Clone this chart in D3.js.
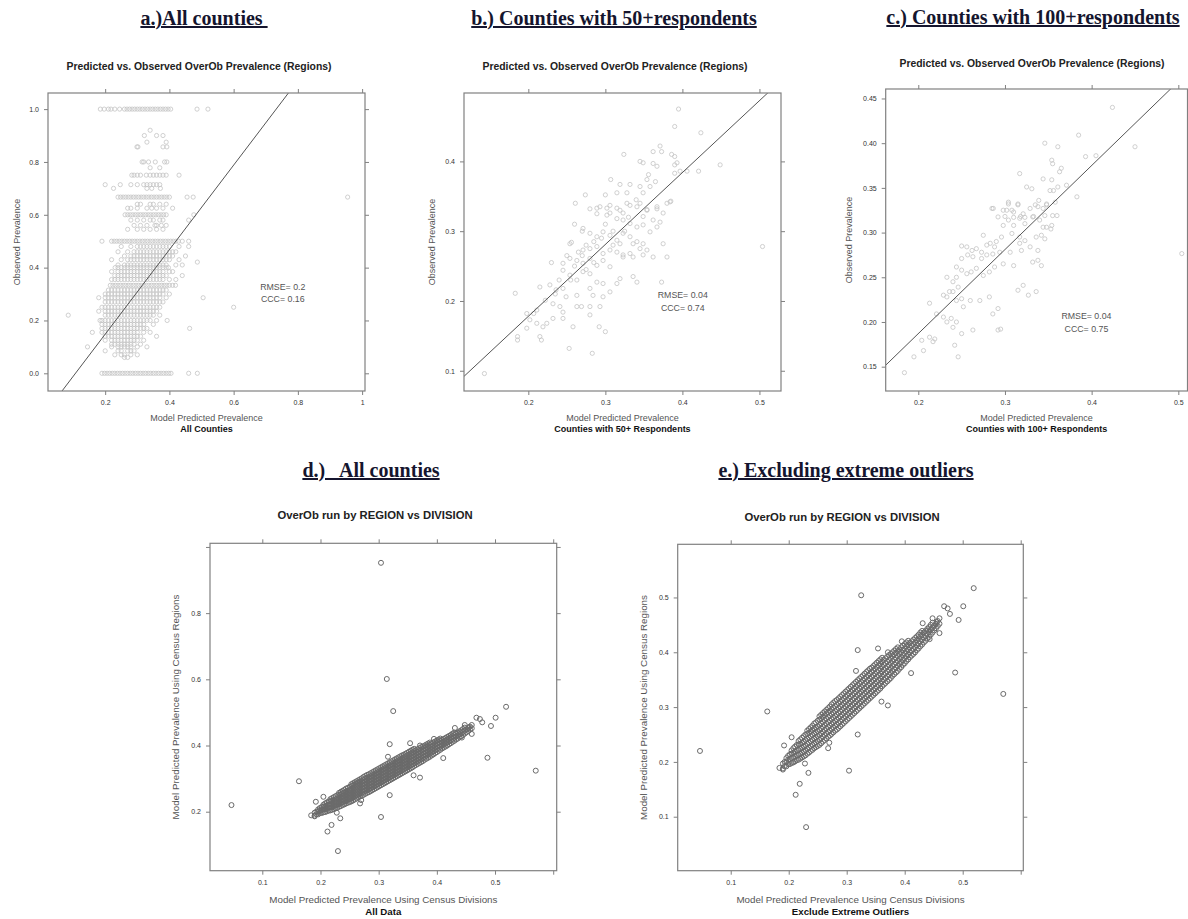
<!DOCTYPE html>
<html>
<head>
<meta charset="utf-8">
<title>OverOb prevalence - predicted vs observed</title>
<script src="https://cdn.jsdelivr.net/npm/d3@7"></script>
<style>
	body{ margin:0; background:#fff; }
	svg text{ font-family:"Liberation Sans", Arial, sans-serif; }
	.hdr{ font-family:"Liberation Serif","Times New Roman",serif !important; font-weight:bold; font-size:20px; fill:#15152e; text-decoration:underline; white-space:pre; }
	.ptitle{ font-weight:bold; fill:#222; }
	.xlab, .ylab{ fill:#555; }
	.sub{ font-weight:bold; fill:#111; }
	.stat{ fill:#555; font-size:8.8px; }
</style>
</head>
<body>

<svg id="fig" width="1188" height="919"></svg>

<script>
// ---------- panel a : all counties, rows of [observed, predicted values...] ----------
var aRows = [
	[1.0, [0.185,0.197,0.21,0.218,0.23,0.245,0.26,0.268,0.276,0.284,0.292,0.3,0.308,0.316,0.324,0.332,0.34,0.348,0.356,0.364,0.372,0.38,0.388,0.396,0.404,0.486,0.52]],
	[0.92, [0.34]],
	[0.9, [0.322,0.36,0.38]],
	[0.875, [0.33,0.39]],
	[0.857, [0.299,0.302,0.38,0.392]],
	[0.8, [0.315,0.32,0.335,0.356,0.385,0.392]],
	[0.778, [0.34,0.37]],
	[0.75, [0.283,0.29,0.3,0.31,0.328,0.34,0.35,0.36,0.37,0.38,0.39,0.43]],
	[0.714, [0.2,0.247,0.28,0.3,0.32,0.33,0.34,0.35,0.36,0.37]],
	[0.7, [0.226,0.33,0.345,0.372]],
	[0.667, [0.24,0.248,0.256,0.264,0.272,0.28,0.288,0.296,0.304,0.312,0.32,0.328,0.336,0.344,0.352,0.36,0.368,0.376,0.384,0.392,0.4,0.455,0.474,0.955]],
	[0.64, [0.3,0.31,0.34,0.35,0.37,0.39]],
	[0.625, [0.27,0.28,0.3,0.33,0.345,0.36,0.38,0.41]],
	[0.6, [0.262,0.27,0.278,0.286,0.294,0.302,0.31,0.318,0.326,0.334,0.342,0.35,0.358,0.366,0.374,0.382,0.39,0.476]],
	[0.58, [0.28,0.3,0.32,0.34,0.35,0.37,0.38,0.46]],
	[0.56, [0.29,0.31,0.33,0.355,0.36,0.375,0.39]],
	[0.545, [0.27,0.3,0.32,0.34,0.36,0.38]],
	[0.5, [0.19,0.22,0.228,0.236,0.244,0.252,0.26,0.268,0.276,0.284,0.292,0.3,0.308,0.316,0.324,0.332,0.34,0.348,0.356,0.364,0.372,0.38,0.388,0.396,0.404,0.412,0.42,0.428,0.44,0.46]],
	[0.48, [0.25,0.28,0.3,0.31,0.32,0.33,0.34,0.35,0.36,0.37,0.38,0.39,0.4,0.43,0.46]],
	[0.46, [0.24,0.27,0.29,0.3,0.31,0.32,0.33,0.34,0.35,0.36,0.37,0.38,0.39,0.4,0.41,0.42]],
	[0.444, [0.26,0.28,0.29,0.3,0.31,0.32,0.33,0.34,0.35,0.36,0.37,0.38,0.39,0.4,0.41,0.45]],
	[0.43, [0.22,0.25,0.27,0.28,0.29,0.3,0.31,0.32,0.33,0.34,0.35,0.36,0.37,0.38,0.39,0.4,0.43]],
	[0.421, [0.487]],
	[0.41, [0.24,0.26,0.27,0.28,0.29,0.3,0.31,0.32,0.33,0.34,0.35,0.36,0.37,0.38,0.39,0.42,0.44]],
	[0.4, [0.231,0.24,0.25,0.26,0.27,0.28,0.29,0.3,0.31,0.32,0.33,0.34,0.35,0.36,0.37,0.38,0.39,0.397]],
	[0.385, [0.22,0.24,0.25,0.26,0.27,0.28,0.29,0.3,0.31,0.32,0.33,0.34,0.35,0.36,0.37,0.38,0.4,0.41]],
	[0.37, [0.23,0.24,0.25,0.26,0.27,0.28,0.29,0.3,0.31,0.32,0.33,0.34,0.35,0.36,0.37,0.38,0.39,0.44]],
	[0.355, [0.22,0.23,0.24,0.25,0.26,0.27,0.28,0.29,0.3,0.31,0.32,0.33,0.34,0.35,0.36,0.37,0.38,0.4,0.42]],
	[0.333, [0.216,0.224,0.232,0.24,0.248,0.256,0.264,0.272,0.28,0.288,0.296,0.304,0.312,0.32,0.328,0.336,0.344,0.352,0.36,0.368,0.376,0.384,0.392,0.4,0.41,0.419]],
	[0.315, [0.21,0.22,0.23,0.24,0.25,0.26,0.27,0.28,0.29,0.3,0.31,0.32,0.33,0.34,0.35,0.36,0.37,0.38,0.39]],
	[0.3, [0.2,0.21,0.22,0.23,0.24,0.25,0.26,0.27,0.28,0.29,0.3,0.31,0.32,0.33,0.34,0.35,0.36,0.37,0.38,0.4]],
	[0.286, [0.18,0.2,0.21,0.22,0.23,0.24,0.25,0.26,0.27,0.28,0.29,0.3,0.31,0.32,0.33,0.34,0.35,0.36,0.37,0.39,0.505]],
	[0.27, [0.2,0.21,0.22,0.23,0.24,0.25,0.26,0.27,0.28,0.29,0.3,0.31,0.32,0.33,0.34,0.35,0.36,0.37,0.38]],
	[0.25, [0.19,0.2,0.21,0.22,0.23,0.24,0.25,0.26,0.27,0.28,0.29,0.3,0.31,0.32,0.33,0.34,0.35,0.36,0.37,0.6]],
	[0.235, [0.18,0.2,0.21,0.22,0.23,0.24,0.25,0.26,0.27,0.28,0.29,0.3,0.31,0.32,0.33,0.34,0.35,0.36]],
	[0.22, [0.085,0.2,0.21,0.22,0.23,0.24,0.25,0.26,0.27,0.28,0.29,0.3,0.31,0.32,0.33,0.34,0.35,0.37]],
	[0.2, [0.184,0.19,0.2,0.21,0.22,0.23,0.24,0.25,0.26,0.27,0.28,0.29,0.3,0.31,0.32,0.33,0.34,0.36,0.393]],
	[0.185, [0.19,0.2,0.21,0.22,0.23,0.24,0.25,0.26,0.27,0.28,0.29,0.3,0.31,0.32,0.35]],
	[0.17, [0.19,0.2,0.21,0.22,0.23,0.24,0.25,0.26,0.27,0.28,0.29,0.3,0.31,0.32,0.33,0.463]],
	[0.155, [0.16,0.19,0.2,0.21,0.22,0.23,0.24,0.25,0.26,0.27,0.28,0.29,0.3,0.32,0.34]],
	[0.14, [0.2,0.21,0.22,0.23,0.24,0.25,0.26,0.27,0.28,0.29,0.3,0.31,0.36]],
	[0.125, [0.2,0.22,0.23,0.24,0.25,0.26,0.27,0.28,0.29,0.3,0.32]],
	[0.11, [0.22,0.23,0.24,0.25,0.26,0.27,0.28,0.29,0.31]],
	[0.1, [0.145,0.22,0.24,0.25,0.26,0.27,0.28,0.3,0.33]],
	[0.085, [0.2,0.24,0.25,0.27,0.28,0.29]],
	[0.07, [0.23,0.25,0.26,0.28,0.3]],
	[0.06, [0.26,0.27]],
	[0.0, [0.19,0.198,0.206,0.214,0.222,0.23,0.238,0.246,0.254,0.262,0.27,0.278,0.286,0.294,0.302,0.31,0.318,0.326,0.334,0.342,0.35,0.358,0.366,0.374,0.382,0.39,0.398,0.405,0.46,0.487]]
]
var aFit = [-0.172, 1.6]			// intercept, slope
var aStats = ['RMSE= 0.2', 'CCC= 0.16']
var aXTicks = [0.2, 0.4, 0.6, 0.8, 1.0]
var aXLabels = ['0.2', '0.4', '0.6', '0.8', '1']
var aYTicks = [0.0, 0.2, 0.4, 0.6, 0.8, 1.0]
var aYLabels = ['0.0', '0.2', '0.4', '0.6', '0.8', '1.0']

// ---------- panel b : counties with 50+ respondents [predicted, observed] ----------
var bPoints = [
	[0.395,0.475],[0.39,0.45],[0.424,0.441],[0.371,0.422],[0.373,0.414],[0.362,0.414],[0.386,0.41],[0.39,0.407],[0.393,0.398],[0.39,0.395],
	[0.324,0.41],[0.345,0.4],[0.349,0.398],[0.362,0.397],[0.367,0.393],[0.406,0.386],[0.421,0.386],[0.449,0.395],[0.39,0.383],[0.397,0.386],
	[0.356,0.381],[0.365,0.371],[0.354,0.374],[0.307,0.374],[0.319,0.367],[0.332,0.367],[0.345,0.364],[0.358,0.364],[0.349,0.355],[0.3,0.352],
	[0.315,0.355],[0.328,0.355],[0.261,0.34],[0.274,0.352],[0.289,0.333],[0.302,0.333],[0.315,0.333],[0.328,0.34],[0.341,0.335],[0.354,0.331],
	[0.367,0.335],[0.385,0.343],[0.306,0.326],[0.323,0.326],[0.349,0.321],[0.375,0.326],
	[0.28,0.332],[0.293,0.335],[0.306,0.337],[0.319,0.33],[0.332,0.337],[0.345,0.34],[0.354,0.33],[0.367,0.332],[0.38,0.34],[0.384,0.342],
	[0.289,0.325],[0.302,0.323],[0.315,0.318],[0.323,0.316],[0.332,0.311],[0.341,0.306],[0.349,0.309],[0.362,0.316],[0.367,0.306],[0.371,0.313],
	[0.254,0.282],[0.271,0.304],[0.28,0.297],[0.289,0.292],[0.297,0.299],[0.306,0.294],[0.315,0.287],[0.323,0.297],[0.332,0.292],[0.341,0.285],
	[0.349,0.282],[0.358,0.299],[0.375,0.282],
	[0.256,0.284],[0.271,0.273],[0.28,0.275],[0.289,0.278],[0.297,0.268],[0.306,0.273],[0.315,0.27],[0.323,0.263],[0.332,0.268],[0.345,0.275],
	[0.354,0.273],[0.336,0.282],[0.319,0.282],
	[0.23,0.255],[0.245,0.254],[0.254,0.261],[0.263,0.258],[0.271,0.254],[0.28,0.261],[0.289,0.251],[0.297,0.258],[0.306,0.249],[0.323,0.266],
	[0.336,0.263],[0.349,0.266],[0.362,0.263],[0.38,0.263],
	[0.245,0.244],[0.254,0.237],[0.263,0.23],[0.271,0.242],[0.28,0.239],[0.289,0.227],[0.297,0.225],[0.315,0.225],[0.319,0.232],[0.336,0.235],
	[0.341,0.227],[0.373,0.227],
	[0.215,0.22],[0.228,0.223],[0.236,0.216],[0.245,0.218],[0.249,0.206],[0.263,0.208],[0.28,0.218],[0.284,0.208],[0.297,0.206],[0.306,0.213],
	[0.183,0.211],
	[0.207,0.182],[0.211,0.187],[0.222,0.201],[0.232,0.196],[0.241,0.192],[0.245,0.184],[0.263,0.192],[0.269,0.192],[0.28,0.192],[0.293,0.192],
	[0.198,0.182],[0.202,0.173],[0.211,0.168],[0.219,0.163],[0.224,0.168],[0.232,0.175],[0.245,0.175],[0.258,0.163],[0.28,0.18],
	[0.198,0.161],[0.186,0.149],[0.186,0.144],[0.215,0.149],[0.217,0.144],[0.253,0.132],[0.283,0.125],[0.292,0.163],[0.3,0.156],
	[0.143,0.096],[0.504,0.278],
	[0.26,0.25],[0.27,0.265],[0.275,0.28],[0.285,0.285],[0.295,0.29],[0.265,0.27],[0.25,0.265],[0.24,0.23],[0.235,0.21],[0.31,0.3],
	[0.3,0.31],[0.33,0.32],[0.34,0.345],[0.27,0.3],[0.26,0.31],[0.275,0.245],[0.285,0.255],[0.31,0.28],[0.325,0.3],[0.255,0.23]
]
var bFit = [-0.028, 1.03]
var bStats = ['RMSE= 0.04', 'CCC= 0.74']
var bXTicks = [0.2, 0.3, 0.4, 0.5]
var bXLabels = ['0.2', '0.3', '0.4', '0.5']
var bYTicks = [0.1, 0.2, 0.3, 0.4]
var bYLabels = ['0.1', '0.2', '0.3', '0.4']

// ---------- panel c : counties with 100+ respondents [predicted, observed] ----------
var cPoints = [
	[0.424,0.44],[0.385,0.409],[0.45,0.396],[0.346,0.40],[0.361,0.396],[0.393,0.385],[0.405,0.386],[0.354,0.381],[0.355,0.377],[0.365,0.372],
	[0.363,0.368],[0.317,0.366],[0.344,0.36],[0.354,0.359],[0.356,0.347],[0.352,0.347],[0.361,0.351],[0.371,0.353],[0.383,0.34],[0.325,0.351],
	[0.331,0.349],[0.339,0.336],[0.348,0.332],[0.358,0.334],[0.285,0.327],[0.304,0.334],[0.315,0.332],[0.302,0.325],[0.308,0.325],[0.335,0.331],
	[0.344,0.327],[0.3,0.318],[0.31,0.317],[0.318,0.318],[0.323,0.317],[0.333,0.318],[0.346,0.319],[0.355,0.319],
	[0.2865,0.327],[0.298,0.325],[0.304,0.332],[0.31,0.323],[0.315,0.331],[0.321,0.321],[0.329,0.327],[0.338,0.329],[0.348,0.331],[0.36,0.319],
	[0.292,0.3175],[0.304,0.314],[0.31,0.308],[0.317,0.316],[0.323,0.31],[0.332,0.3175],[0.34,0.314],[0.348,0.306],[0.353,0.304],[0.342,0.297],
	[0.336,0.295],[0.344,0.306],
	[0.275,0.297],[0.283,0.288],[0.288,0.284],[0.298,0.308],[0.308,0.299],[0.317,0.295],[0.323,0.291],[0.329,0.284],[0.338,0.28],[0.346,0.293],
	[0.354,0.308],[0.319,0.28],[0.317,0.288],[0.306,0.278],[0.29,0.29],[0.279,0.286],[0.296,0.295],
	[0.25,0.285],[0.256,0.284],[0.262,0.28],[0.267,0.282],[0.273,0.278],[0.279,0.275],[0.286,0.276],[0.294,0.278],[0.273,0.271],[0.263,0.273],
	[0.257,0.275],[0.25,0.271],[0.298,0.265],[0.31,0.263],[0.332,0.267],[0.342,0.263],[0.338,0.269],
	[0.24,0.245],[0.244,0.2615],[0.25,0.258],[0.256,0.254],[0.261,0.256],[0.267,0.26],[0.275,0.252],[0.282,0.256],[0.288,0.2615],[0.244,0.25],
	[0.233,0.25],[0.24,0.234],[0.246,0.239],
	[0.315,0.2355],[0.321,0.241],[0.327,0.23],[0.336,0.234],
	[0.229,0.23],[0.233,0.228],[0.236,0.234],[0.244,0.224],[0.25,0.226],[0.252,0.217],[0.26,0.224],[0.271,0.224],[0.282,0.228],
	[0.213,0.221],
	[0.221,0.209],[0.229,0.2055],[0.233,0.2],[0.238,0.204],[0.24,0.194],[0.244,0.2],[0.25,0.187],[0.263,0.191],[0.286,0.209],[0.292,0.215],
	[0.292,0.191],[0.295,0.192],
	[0.204,0.1795],[0.206,0.168],[0.213,0.183],[0.219,0.181],[0.217,0.178],[0.242,0.174],[0.246,0.161],
	[0.195,0.161],[0.184,0.1433],[0.504,0.2765]
]
var cFit = [-0.001, 0.94]
var cStats = ['RMSE= 0.04', 'CCC= 0.75']
var cXTicks = [0.2, 0.3, 0.4, 0.5]
var cXLabels = ['0.2', '0.3', '0.4', '0.5']
var cYTicks = [0.15, 0.20, 0.25, 0.30, 0.35, 0.40, 0.45]
var cYLabels = ['0.15', '0.20', '0.25', '0.30', '0.35', '0.40', '0.45']

// ---------- panels d / e : region model vs division model ----------
// main band, columns of [division value, [region values...]]
var dBand = [
	[0.190,[0.188,0.197]],
	[0.196,[0.192,0.200,0.207]],
	[0.202,[0.196,0.205,0.214]],
	[0.208,[0.199,0.208,0.217,0.225]],
	[0.214,[0.203,0.212,0.221,0.231]],
	[0.220,[0.206,0.215,0.224,0.233,0.241]],
	[0.226,[0.210,0.219,0.228,0.237,0.247]],
	[0.232,[0.215,0.224,0.233,0.242,0.251,0.257]],
	[0.238,[0.220,0.229,0.238,0.247,0.256,0.263]],
	[0.244,[0.225,0.234,0.243,0.252,0.261,0.270]],
	[0.250,[0.229,0.238,0.247,0.256,0.265,0.275]],
	[0.256,[0.234,0.243,0.252,0.261,0.270,0.279,0.286]],
	[0.262,[0.240,0.249,0.258,0.267,0.276,0.285,0.292]],
	[0.268,[0.246,0.255,0.264,0.273,0.282,0.291,0.298]],
	[0.274,[0.251,0.260,0.269,0.278,0.287,0.296,0.305]],
	[0.280,[0.257,0.266,0.275,0.284,0.293,0.302,0.311]],
	[0.286,[0.262,0.271,0.280,0.289,0.298,0.307,0.316]],
	[0.292,[0.268,0.277,0.286,0.295,0.304,0.313,0.322]],
	[0.298,[0.274,0.283,0.292,0.301,0.310,0.319,0.328]],
	[0.304,[0.280,0.289,0.298,0.307,0.316,0.325,0.334]],
	[0.310,[0.286,0.295,0.304,0.313,0.322,0.331,0.340]],
	[0.316,[0.292,0.301,0.310,0.319,0.328,0.337,0.346]],
	[0.322,[0.298,0.307,0.316,0.325,0.334,0.343,0.352]],
	[0.328,[0.304,0.313,0.322,0.331,0.340,0.349,0.358]],
	[0.334,[0.310,0.319,0.328,0.337,0.346,0.355,0.364]],
	[0.340,[0.316,0.325,0.334,0.343,0.352,0.361,0.370]],
	[0.346,[0.322,0.331,0.340,0.349,0.358,0.367,0.375]],
	[0.352,[0.328,0.337,0.346,0.355,0.364,0.373,0.381]],
	[0.358,[0.334,0.343,0.352,0.361,0.370,0.379,0.387]],
	[0.364,[0.341,0.350,0.359,0.368,0.377,0.386]],
	[0.370,[0.347,0.356,0.365,0.374,0.383,0.392]],
	[0.376,[0.353,0.362,0.371,0.380,0.389,0.397]],
	[0.382,[0.360,0.369,0.378,0.387,0.396,0.403]],
	[0.388,[0.366,0.375,0.384,0.393,0.402,0.409]],
	[0.394,[0.373,0.382,0.391,0.400,0.409]],
	[0.400,[0.380,0.389,0.398,0.407,0.415]],
	[0.406,[0.387,0.396,0.405,0.414,0.421]],
	[0.412,[0.394,0.403,0.412,0.420]],
	[0.418,[0.400,0.409,0.418,0.426]],
	[0.424,[0.407,0.416,0.425,0.432]],
	[0.430,[0.414,0.423,0.432,0.439]],
	[0.436,[0.421,0.430,0.439]],
	[0.442,[0.428,0.437,0.446]],
	[0.448,[0.436,0.445,0.454]],
	[0.454,[0.444,0.452]],
	[0.460,[0.452,0.462]],
	// in-between columns of the same band
	[0.193,[0.192,0.2]],
	[0.199,[0.196,0.204,0.211]],
	[0.205,[0.198,0.207,0.215,0.221]],
	[0.211,[0.201,0.210,0.219,0.228]],
	[0.217,[0.204,0.213,0.222,0.232,0.238]],
	[0.223,[0.208,0.217,0.226,0.235,0.244]],
	[0.229,[0.212,0.221,0.230,0.240,0.25]],
	[0.235,[0.217,0.226,0.235,0.244,0.253,0.26]],
	[0.241,[0.222,0.231,0.240,0.249,0.258,0.266]],
	[0.247,[0.227,0.236,0.245,0.254,0.263,0.272]],
	[0.253,[0.231,0.240,0.249,0.258,0.267,0.277,0.283]],
	[0.259,[0.237,0.246,0.255,0.264,0.273,0.282,0.289]],
	[0.265,[0.243,0.252,0.261,0.270,0.279,0.288,0.295]],
	[0.271,[0.248,0.257,0.266,0.275,0.284,0.293,0.301]],
	[0.277,[0.254,0.263,0.272,0.281,0.290,0.299,0.308]],
	[0.283,[0.259,0.268,0.277,0.286,0.295,0.304,0.313]],
	[0.289,[0.265,0.274,0.283,0.292,0.301,0.310,0.319]],
	[0.295,[0.271,0.280,0.289,0.298,0.307,0.316,0.325]],
	[0.301,[0.277,0.286,0.295,0.304,0.313,0.322,0.331]],
	[0.307,[0.283,0.292,0.301,0.310,0.319,0.328,0.337]],
	[0.313,[0.289,0.298,0.307,0.316,0.325,0.334,0.343]],
	[0.319,[0.295,0.304,0.313,0.322,0.331,0.340,0.349]],
	[0.325,[0.301,0.310,0.319,0.328,0.337,0.346,0.355]],
	[0.331,[0.307,0.316,0.325,0.334,0.343,0.352,0.361]],
	[0.337,[0.313,0.322,0.331,0.340,0.349,0.358,0.367]],
	[0.343,[0.319,0.328,0.337,0.346,0.355,0.364,0.372]],
	[0.349,[0.325,0.334,0.343,0.352,0.361,0.370,0.378]],
	[0.355,[0.331,0.340,0.349,0.358,0.367,0.376,0.384]],
	[0.361,[0.338,0.347,0.356,0.365,0.374,0.383,0.39]],
	[0.367,[0.344,0.353,0.362,0.371,0.380,0.389]],
	[0.373,[0.350,0.359,0.368,0.377,0.386,0.395]],
	[0.379,[0.357,0.366,0.375,0.384,0.393,0.400]],
	[0.385,[0.363,0.372,0.381,0.390,0.399,0.406]],
	[0.391,[0.370,0.379,0.388,0.397,0.405]],
	[0.397,[0.377,0.386,0.395,0.404,0.412]],
	[0.403,[0.384,0.393,0.402,0.411,0.418]],
	[0.409,[0.391,0.400,0.409,0.417]],
	[0.415,[0.397,0.406,0.415,0.423]],
	[0.421,[0.404,0.413,0.422,0.429]],
	[0.427,[0.411,0.420,0.429,0.436]],
	[0.433,[0.418,0.427,0.436]],
	[0.439,[0.425,0.434,0.443]],
	[0.445,[0.432,0.441,0.450]],
	[0.451,[0.440,0.449]],
	[0.457,[0.448,0.457]]
]
var dOutliers = [
	[0.047,0.22],[0.163,0.292],[0.325,0.504],[0.519,0.517],[0.501,0.484],[0.487,0.363],[0.57,0.324],[0.411,0.362],[0.371,0.303],[0.319,0.25],
	[0.304,0.184],[0.23,0.081],[0.212,0.14],[0.219,0.16],[0.234,0.18],[0.205,0.245],[0.192,0.23],[0.184,0.189],[0.19,0.186],[0.268,0.225],
	[0.319,0.404],[0.354,0.407],[0.371,0.40],[0.316,0.366],[0.468,0.484],[0.474,0.48],[0.493,0.459],[0.448,0.462],[0.455,0.455],[0.431,0.453],
	[0.478,0.47],[0.44,0.44],[0.46,0.435],[0.443,0.424],[0.36,0.31],[0.27,0.235],[0.228,0.197],[0.395,0.42]
]
var dExtreme = [[0.304,0.952],[0.314,0.601]]	// dropped in panel e
var dXTicks = [0.1, 0.2, 0.3, 0.4, 0.5, 0.6]
var dXLabels = ['0.1', '0.2', '0.3', '0.4', '0.5', '']
var dYTicks = [0.2, 0.4, 0.6, 0.8, 1.0]
var dYLabels = ['0.2', '0.4', '0.6', '0.8', '']
var eYTicks = [0.1, 0.2, 0.3, 0.4, 0.5]
var eYLabels = ['0.1', '0.2', '0.3', '0.4', '0.5']

// build point lists
var aPoints = []
aRows.forEach(function(r){ r[1].forEach(function(v){ aPoints.push([v, r[0]]) }) })
var bandPoints = []
dBand.forEach(function(c){ c[1].forEach(function(v){ bandPoints.push([c[0], v]) }) })
var dPoints = bandPoints.concat(dOutliers, dExtreme)
var ePoints = bandPoints.concat(dOutliers)

var svg = d3.select('#fig')

var panels = [
	{name:'a', header:'a.)All counties ', hx:204, hy:25,
	 title:'Predicted vs. Observed OverOb Prevalence (Regions)', tx:199, ty:70, tsize:10.4,
	 box:{l:48, t:93, r:365, b:391}, xDom:[0.022, 1.009], yDom:[-0.067, 1.061],
	 xTicks:aXTicks, xLabels:aXLabels, yTicks:aYTicks, yLabels:aYLabels,
	 points:aPoints, col:'#c4c4c4', r:2.1, sw:0.8, fit:aFit, stats:aStats, statAt:[0.753, 0.326, 0.28],
	 xlab:'Model Predicted Prevalence', sub:'All Counties', ylab:'Observed Prevalence', ylx:20, xly:421, suby:432},
	{name:'b', header:'b.) Counties with 50+respondents', hx:614, hy:25,
	 title:'Predicted vs. Observed OverOb Prevalence (Regions)', tx:615, ty:70, tsize:10.4,
	 box:{l:464, t:93, r:781, b:391}, xDom:[0.1165, 0.528], yDom:[0.071, 0.498],
	 xTicks:bXTicks, xLabels:bXLabels, yTicks:bYTicks, yLabels:bYLabels,
	 points:bPoints, col:'#c4c4c4', r:2.1, sw:0.8, fit:bFit, stats:bStats, statAt:[0.4005, 0.2086, 0.19],
	 xlab:'Model Predicted Prevalence', sub:'Counties with 50+ Respondents', ylab:'Observed Prevalence', ylx:435, xly:421, suby:432},
	{name:'c', header:'c.) Counties with 100+respondents', hx:1033, hy:24,
	 title:'Predicted vs. Observed OverOb Prevalence (Regions)', tx:1032, ty:66.5, tsize:10.4,
	 box:{l:885.7, t:89, r:1187.5, b:391}, xDom:[0.1624, 0.5106], yDom:[0.1228, 0.4606],
	 xTicks:cXTicks, xLabels:cXLabels, yTicks:cYTicks, yLabels:cYLabels,
	 points:cPoints, col:'#c4c4c4', r:2.1, sw:0.8, fit:cFit, stats:cStats, statAt:[0.394, 0.2067, 0.1918],
	 xlab:'Model Predicted Prevalence', sub:'Counties with 100+ Respondents', ylab:'Observed Prevalence', ylx:852, xly:421, suby:432},
	{name:'d', header:'d.)   All counties', hx:371, hy:477,
	 title:'OverOb run by REGION vs DIVISION', tx:375, ty:519, tsize:11.3,
	 box:{l:210, t:543.3, r:556.7, b:870.7}, xDom:[0.0101, 0.606], yDom:[0.0217, 1.011],
	 xTicks:dXTicks, xLabels:dXLabels, yTicks:dYTicks, yLabels:dYLabels,
	 points:dPoints, col:'#6a6a6a', r:2.5, sw:1, fit:null,
	 xlab:'Model Predicted Prevalence Using Census Divisions', sub:'All Data',
	 ylab:'Model Predicted Prevalence Using Census Regions', ylx:179, xly:902.5, suby:915},
	{name:'e', header:'e.) Excluding extreme outliers', hx:846, hy:477,
	 title:'OverOb run by REGION vs DIVISION', tx:842, ty:520.5, tsize:11.3,
	 box:{l:677.7, t:544.3, r:1023.3, b:870.7}, xDom:[0.0086, 0.6045], yDom:[0.0015, 0.597],
	 xTicks:dXTicks, xLabels:dXLabels, yTicks:eYTicks, yLabels:eYLabels,
	 points:ePoints, col:'#6a6a6a', r:2.5, sw:1, fit:null,
	 xlab:'Model Predicted Prevalence Using Census Divisions', sub:'Exclude Extreme Outliers',
	 ylab:'Model Predicted Prevalence Using Census Regions', ylx:647, xly:902.5, suby:915}
]

function drawPanel(p) {
	var box = p.box
	var x = d3.scaleLinear().domain(p.xDom).range([box.l, box.r])
	var y = d3.scaleLinear().domain(p.yDom).range([box.b, box.t])
	var g = svg.append('g').attr('class', 'panel-' + p.name)
	var big = p.name > 'c'

	// headers and titles
	svg.append('text').attr('class', 'hdr').attr('x', p.hx).attr('y', p.hy)
		.attr('text-anchor', 'middle').text(p.header)
	g.append('text').attr('class', 'ptitle').attr('x', p.tx).attr('y', p.ty)
		.attr('text-anchor', 'middle').attr('font-size', p.tsize).text(p.title)

	var clipId = 'clip-' + p.name
	g.append('clipPath').attr('id', clipId).append('rect')
		.attr('x', box.l).attr('y', box.t).attr('width', box.r - box.l).attr('height', box.b - box.t)

	// points
	g.append('g').attr('clip-path', 'url(#' + clipId + ')')
		.selectAll('circle')
		.data(p.points)
		.enter()
		.append('circle')
		.attr('cx', function(d){ return x(d[0]) })
		.attr('cy', function(d){ return y(d[1]) })
		.attr('r', p.r)
		.attr('fill', 'none')
		.attr('stroke', p.col)
		.attr('stroke-width', p.sw)

	// fitted line
	if (p.fit) {
		var ends = [p.xDom[0] - 0.1, p.xDom[1] + 0.1].map(function(v){ return [v, p.fit[0] + p.fit[1] * v] })
		g.append('path')
			.attr('clip-path', 'url(#' + clipId + ')')
			.attr('d', d3.line().x(function(d){ return x(d[0]) }).y(function(d){ return y(d[1]) })(ends))
			.attr('stroke', '#555')
			.attr('stroke-width', 1)
			.attr('fill', 'none')
	}

	// box + lattice style ticks on all sides
	g.append('rect').attr('x', box.l).attr('y', box.t)
		.attr('width', box.r - box.l).attr('height', box.b - box.t)
		.attr('fill', 'none').attr('stroke', '#808080').attr('stroke-width', 1.2)

	var axes = [
		[d3.axisBottom(x).tickValues(p.xTicks).tickFormat(function(d, i){ return p.xLabels[i] }), 'translate(0,' + box.b + ')'],
		[d3.axisTop(x).tickValues(p.xTicks).tickFormat(''), 'translate(0,' + box.t + ')'],
		[d3.axisLeft(y).tickValues(p.yTicks).tickFormat(function(d, i){ return p.yLabels[i] }), 'translate(' + box.l + ',0)'],
		[d3.axisRight(y).tickValues(p.yTicks).tickFormat(''), 'translate(' + box.r + ',0)']
	]
	axes.forEach(function(a){
		var ag = g.append('g').attr('transform', a[1])
			.call(a[0].tickSize(4).tickPadding(5))
			.attr('font-size', 7)
			.attr('font-family', '"Liberation Sans", Arial, sans-serif')
		ag.select('.domain').remove()
		ag.selectAll('line').attr('stroke', '#808080')
		ag.selectAll('text').attr('fill', '#333')
	})

	// axis labels
	var cx = (box.l + box.r) / 2
	g.append('text').attr('class', 'xlab').attr('x', cx).attr('y', p.xly)
		.attr('text-anchor', 'middle').attr('font-size', big ? 9.8 : 9).text(p.xlab)
	g.append('text').attr('class', 'sub').attr('x', cx).attr('y', p.suby)
		.attr('text-anchor', 'middle').attr('font-size', big ? 9.7 : 9).text(p.sub)
	g.append('text').attr('class', 'ylab')
		.attr('transform', 'translate(' + p.ylx + ',' + (box.t + box.b) / 2 + ') rotate(-90)')
		.attr('text-anchor', 'middle').attr('font-size', big ? 9.8 : 9).text(p.ylab)

	// RMSE / CCC note
	if (p.stats) {
		p.stats.forEach(function(s, i){
			g.append('text').attr('class', 'stat')
				.attr('x', x(p.statAt[0])).attr('y', y(p.statAt[i + 1]) + 3)
				.attr('text-anchor', 'middle').text(s)
		})
	}
}

panels.forEach(drawPanel)
</script>
</body>
</html>
